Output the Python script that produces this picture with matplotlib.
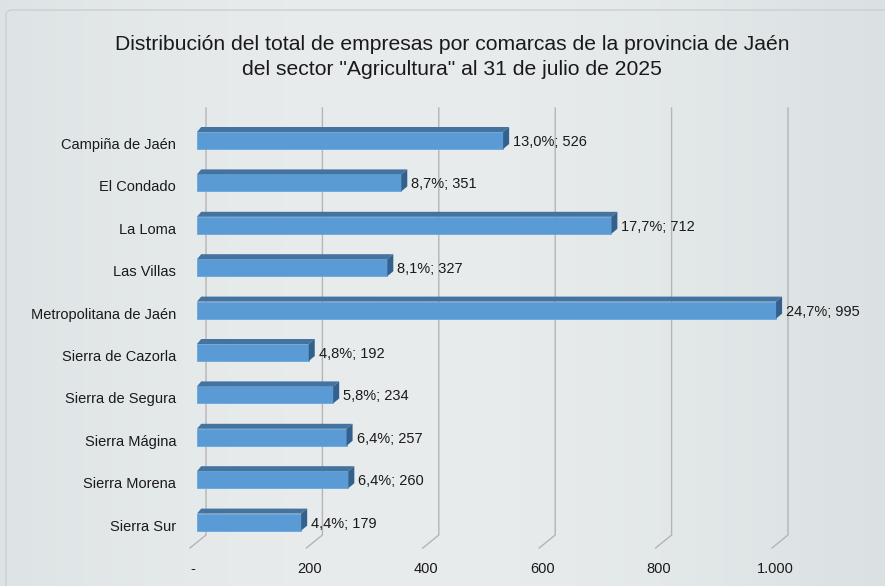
import numpy as np
import matplotlib
matplotlib.use("Agg")
import matplotlib.pyplot as plt
from matplotlib.patches import Polygon, FancyBboxPatch
from matplotlib.transforms import ScaledTranslation
from matplotlib.ticker import FuncFormatter

# data
comarcas = ["Campiña de Jaén", "El Condado", "La Loma", "Las Villas",
            "Metropolitana de Jaén", "Sierra de Cazorla", "Sierra de Segura",
            "Sierra Mágina", "Sierra Morena", "Sierra Sur"]
empresas = [526, 351, 712, 327, 995, 192, 234, 257, 260, 179]
porcentajes = [13.0, 8.7, 17.7, 8.1, 24.7, 4.8, 5.8, 6.4, 6.4, 4.4]
x_ticks = [0, 200, 400, 600, 800, 1000]

W, H, DPI = 885, 586, 100
plt.rcParams['font.family'] = ['Liberation Sans', 'DejaVu Sans']

fig = plt.figure(figsize=(W / DPI, H / DPI), dpi=DPI)
fig.patch.set_facecolor('#dde3e4')

# soft background gradient (stands in for the photo behind the chart)
bg = fig.add_axes([0, 0, 1, 1], zorder=-10)
grad = np.linspace(0, 1, 256)
tone = 0.5 + 0.5 * np.sin(np.pi * grad * 1.1)
col0 = np.array([0.83, 0.86, 0.875])
col1 = np.array([0.91, 0.925, 0.925])
img = col0[None, None, :] + (col1 - col0)[None, None, :] * tone[None, :, None]
bg.imshow(np.repeat(img, 4, axis=0), aspect='auto', extent=[0, 1, 0, 1])
bg.set_axis_off()

# chart area border
fig.add_artist(FancyBboxPatch((6 / W, -0.2), 1.2, 1.2 - 10 / H,
                              boxstyle="round,pad=0,rounding_size=0.008",
                              transform=fig.transFigure, fill=False,
                              edgecolor='#cbcfd0', linewidth=1.0))

# axes in pixel geometry
px_per_unit = 0.582
x0_px, xmax = 197, 1100
ax_w = xmax * px_per_unit
top_px, bot_px = 108, 548
row_px = 42.4
first_row_px = 140.5
ylim_top = -(first_row_px - top_px) / row_px
ylim_bot = (bot_px - first_row_px) / row_px
ax = fig.add_axes([x0_px / W, 1 - bot_px / H, ax_w / W, (bot_px - top_px) / H])
ax.set_xlim(0, xmax)
ax.set_ylim(ylim_bot, ylim_top)
ax.patch.set_alpha(0)
for s in ax.spines.values():
    s.set_visible(False)

ux = 1 / px_per_unit   # data units per pixel (x)
uy = 1 / row_px        # data units per pixel (y)

# 3D-looking gridlines
back, front = 9 * ux, -7 * ux
y_knee = ylim_bot - 13 * uy
for t in x_ticks:
    ax.plot([t + back, t + back, t + front], [ylim_top, y_knee, ylim_bot],
            color='#b3b5b6', linewidth=1.0, zorder=1, clip_on=False)

# bars with top and side faces
ypos = np.arange(len(comarcas))
bar_h = 17 * uy
dx, dy = 6 * ux, 5 * uy
ax.barh(ypos, empresas, height=bar_h, color='#5b9bd5', edgecolor='#6aa6dc',
        linewidth=0.6, zorder=3)
for y, v, p in zip(ypos, empresas, porcentajes):
    yt, yb = y - bar_h / 2, y + bar_h / 2
    ax.add_patch(Polygon([(0, yt), (v, yt), (v + dx, yt - dy), (0 + dx * 0.7, yt - dy)],
                         closed=True, facecolor='#44739f', edgecolor='none', zorder=3))
    ax.add_patch(Polygon([(v, yt), (v + dx, yt - dy), (v + dx, yb - dy), (v, yb)],
                         closed=True, facecolor='#33608c', edgecolor='none', zorder=3))
    lab = f"{p:.1f}".replace('.', ',') + f"%; {v}"
    ax.text(v + dx + 4 * ux, y + 1.5 * uy, lab, ha='left', va='center',
            fontsize=10.5, color='#1a1a1a', zorder=4)

# category labels
ax.set_yticks(ypos)
ax.set_yticklabels(comarcas, fontsize=10.5, color='#1a1a1a')
ax.tick_params(axis='y', length=0, pad=15)
for lbl in ax.get_yticklabels():
    lbl.set_transform(lbl.get_transform() + ScaledTranslation(0, -3 / DPI, fig.dpi_scale_trans))

# value axis labels
ax.set_xticks(x_ticks)
ax.xaxis.set_major_formatter(FuncFormatter(
    lambda v, pos: "-" if v == 0 else f"{int(v):,}".replace(',', '.')))
ax.tick_params(axis='x', length=0, pad=10, labelsize=10.5, colors='#1a1a1a')
for lbl in ax.get_xticklabels():
    lbl.set_transform(lbl.get_transform() + ScaledTranslation(-4 / DPI, 0, fig.dpi_scale_trans))

fig.text(452 / W, 1 - 57 / H,
         "Distribución del total de empresas por comarcas de la provincia de Jaén\n"
         "del sector \"Agricultura\" al 31 de julio de 2025",
         ha='center', va='center', fontsize=15.2, color='#1a1a1a', linespacing=1.45)

fig.savefig("out.png", dpi=DPI, facecolor=fig.get_facecolor())
